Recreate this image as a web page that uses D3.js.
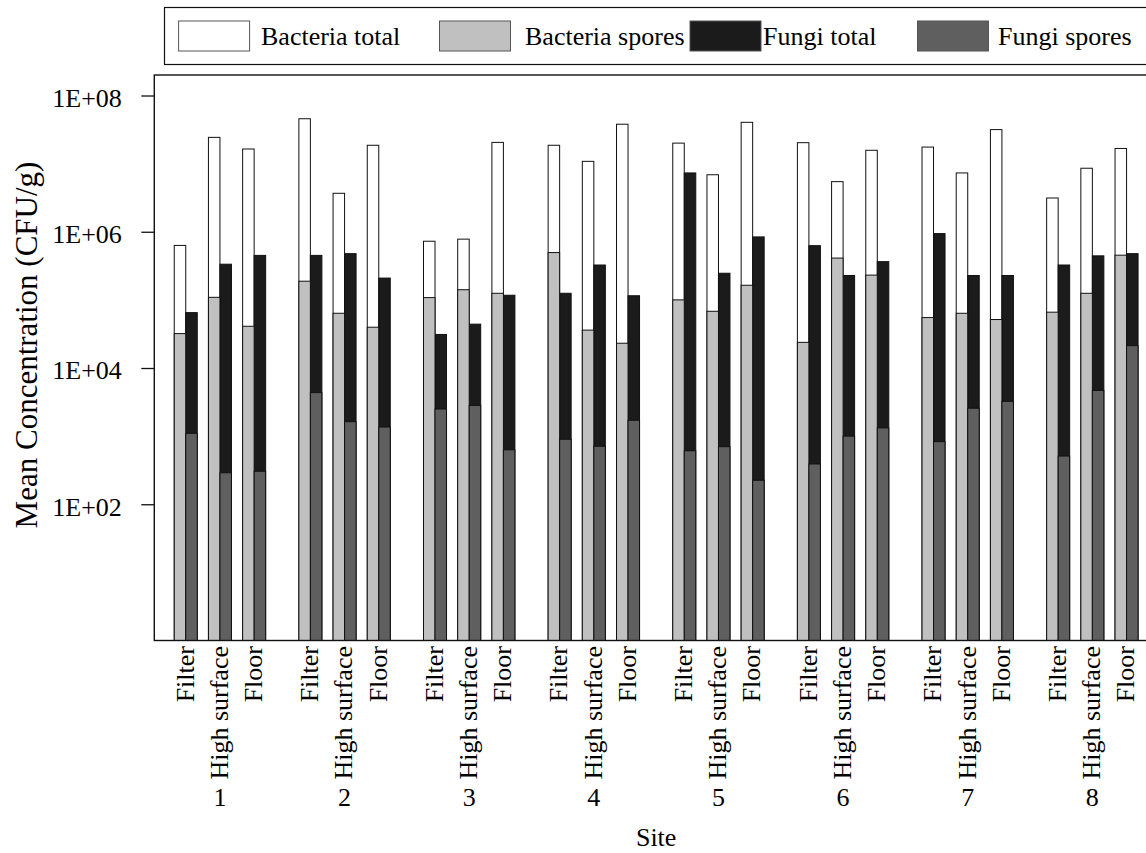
<!DOCTYPE html>
<html>
<head>
<meta charset="utf-8">
<script src="https://cdn.jsdelivr.net/npm/d3@7"></script>
<style>
  html, body { margin: 0; padding: 0; background: #fff; }
  svg { display: block; font-family: "Liberation Serif", "Times New Roman", serif; }
</style>
</head>
<body>
<svg id="chart" width="1146" height="853"></svg>
<script>
// Sites and sampling locations
const sites = ["1", "2", "3", "4", "5", "6", "7", "8"];
const locations = ["Filter", "High surface", "Floor"];

// Mean concentrations (CFU/g), ordered site by site: Filter, High surface, Floor
const bacteriaTotal = [
  6.3e5, 2.43e7, 1.64e7,
  4.56e7, 3.67e6, 1.86e7,
  7.26e5, 7.79e5, 2.05e7,
  1.86e7, 1.08e7, 3.79e7,
  2.0e7, 6.87e6, 4.04e7,
  2.03e7, 5.44e6, 1.57e7,
  1.75e7, 7.3e6, 3.16e7,
  3.13e6, 8.56e6, 1.67e7
];
const bacteriaSpores = [
  3.2e4, 1.09e5, 4.1e4,
  1.88e5, 6.36e4, 3.97e4,
  1.08e5, 1.41e5, 1.25e5,
  4.95e5, 3.6e4, 2.31e4,
  1.0e5, 6.8e4, 1.64e5,
  2.38e4, 4.11e5, 2.31e5,
  5.5e4, 6.36e4, 5.15e4,
  6.6e4, 1.25e5, 4.53e5
];
const fungiTotal = [
  6.5e4, 3.34e5, 4.5e5,
  4.5e5, 4.77e5, 2.09e5,
  3.11e4, 4.4e4, 1.17e5,
  1.25e5, 3.25e5, 1.15e5,
  7.3e6, 2.46e5, 8.4e5,
  6.25e5, 2.28e5, 3.64e5,
  9.4e5, 2.28e5, 2.28e5,
  3.25e5, 4.43e5, 4.77e5
];
const fungiSpores = [
  1.1e3, 2.9e2, 3.05e2,
  4.35e3, 1.63e3, 1.36e3,
  2.5e3, 2.83e3, 6.3e2,
  9.0e2, 7.1e2, 1.71e3,
  6.1e2, 7.0e2, 2.25e2,
  3.9e2, 1.0e3, 1.32e3,
  8.3e2, 2.57e3, 3.24e3,
  5.1e2, 4.69e3, 2.13e4
];

// Axis ticks
const yTicks = [1e2, 1e4, 1e6, 1e8];
const yTickLabels = ["1E+02", "1E+04", "1E+06", "1E+08"];

// Legend entries
const legendLabels = ["Bacteria total", "Bacteria spores", "Fungi total", "Fungi spores"];
const legendFills = ["#ffffff", "#c0c0c0", "#1b1b1b", "#5f5f5f"];

// ---------------------------------------------------------------
const svg = d3.select("#chart");
const plot = { left: 154.3, top: 75, right: 1158, bottom: 640.5 };

const rows = [];
sites.forEach((s, si) => {
  locations.forEach((l, li) => {
    const i = si * locations.length + li;
    rows.push({
      site: s, loc: l,
      bacteriaTotal: bacteriaTotal[i], bacteriaSpores: bacteriaSpores[i],
      fungiTotal: fungiTotal[i], fungiSpores: fungiSpores[i]
    });
  });
});

const xSite = d3.scaleBand().domain(sites)
  .range([plot.left, plot.right]).paddingInner(0.2666).paddingOuter(0.16);
const xLoc = d3.scaleBand().domain(locations)
  .range([0, xSite.bandwidth()]).paddingInner(0.327);
const xKind = d3.scaleBand().domain(["bacteria", "fungi"])
  .range([0, xLoc.bandwidth()]);
const y = d3.scaleLog().domain([1, 2.0e8]).range([plot.bottom, plot.top]);

// Bars: totals drawn first, spores laid over them from the baseline
const layers = [
  { key: "bacteriaTotal", kind: "bacteria", fill: legendFills[0] },
  { key: "fungiTotal", kind: "fungi", fill: legendFills[2] },
  { key: "bacteriaSpores", kind: "bacteria", fill: legendFills[1] },
  { key: "fungiSpores", kind: "fungi", fill: legendFills[3] }
];
const barsG = svg.append("g");
layers.forEach(layer => {
  barsG.append("g")
    .selectAll("rect")
    .data(rows)
    .join("rect")
    .attr("x", d => xSite(d.site) + xLoc(d.loc) + xKind(layer.kind))
    .attr("width", xKind.bandwidth())
    .attr("y", d => y(d[layer.key]))
    .attr("height", d => y(1) - y(d[layer.key]))
    .attr("fill", layer.fill)
    .attr("stroke", "#111")
    .attr("stroke-width", 1);
});

// Plot frame
svg.append("rect")
  .attr("x", plot.left).attr("y", plot.top)
  .attr("width", plot.right - plot.left).attr("height", plot.bottom - plot.top)
  .attr("fill", "none").attr("stroke", "#111").attr("stroke-width", 1.4);

// Y axis
const yAxis = svg.append("g")
  .attr("transform", `translate(${plot.left},0)`)
  .call(d3.axisLeft(y).tickValues(yTicks)
    .tickFormat((d, i) => yTickLabels[i]).tickSize(13).tickPadding(19.5));
yAxis.select(".domain").remove();
yAxis.selectAll(".tick line").attr("stroke", "#111").attr("stroke-width", 1.3);
yAxis.selectAll(".tick text")
  .attr("font-family", "'Liberation Serif', 'Times New Roman', serif")
  .attr("font-size", 26).attr("fill", "#000").attr("dy", "0.42em");

// X labels: location names (rotated) and site numbers
const xLab = svg.append("g").attr("font-size", 26).attr("fill", "#000");
xLab.selectAll("text.loc")
  .data(rows)
  .join("text")
  .attr("class", "loc")
  .attr("transform", d => {
    const cx = xSite(d.site) + xLoc(d.loc) + xLoc.bandwidth() / 2;
    return `translate(${cx},646) rotate(-90)`;
  })
  .attr("text-anchor", "end")
  .attr("dy", "0.3em")
  .text(d => d.loc);

xLab.selectAll("text.site")
  .data(sites)
  .join("text")
  .attr("class", "site")
  .attr("x", d => xSite(d) + xSite.bandwidth() / 2)
  .attr("y", 806)
  .attr("text-anchor", "middle")
  .text(d => d);

// Axis titles
svg.append("text")
  .attr("x", (plot.left + plot.right) / 2).attr("y", 846)
  .attr("text-anchor", "middle").attr("font-size", 26)
  .text("Site");
svg.append("text")
  .attr("transform", "translate(37,345) rotate(-90)")
  .attr("text-anchor", "middle").attr("font-size", 31)
  .text("Mean Concentration (CFU/g)");

// Legend
const legend = svg.append("g");
legend.append("rect")
  .attr("x", 164.5).attr("y", 7.5).attr("width", 1000).attr("height", 57)
  .attr("fill", "#fff").attr("stroke", "#111").attr("stroke-width", 1.2);
const swatchX = [178.6, 439.5, 690, 917.5];
const labelX = [261, 525, 763, 998];
legendLabels.forEach((lab, i) => {
  legend.append("rect")
    .attr("x", swatchX[i]).attr("y", 21).attr("width", 71).attr("height", 30)
    .attr("fill", legendFills[i]).attr("stroke", "#555").attr("stroke-width", 1);
  legend.append("text")
    .attr("x", labelX[i]).attr("y", 36).attr("dy", "0.34em")
    .attr("font-size", 26).text(lab);
});
</script>
</body>
</html>
